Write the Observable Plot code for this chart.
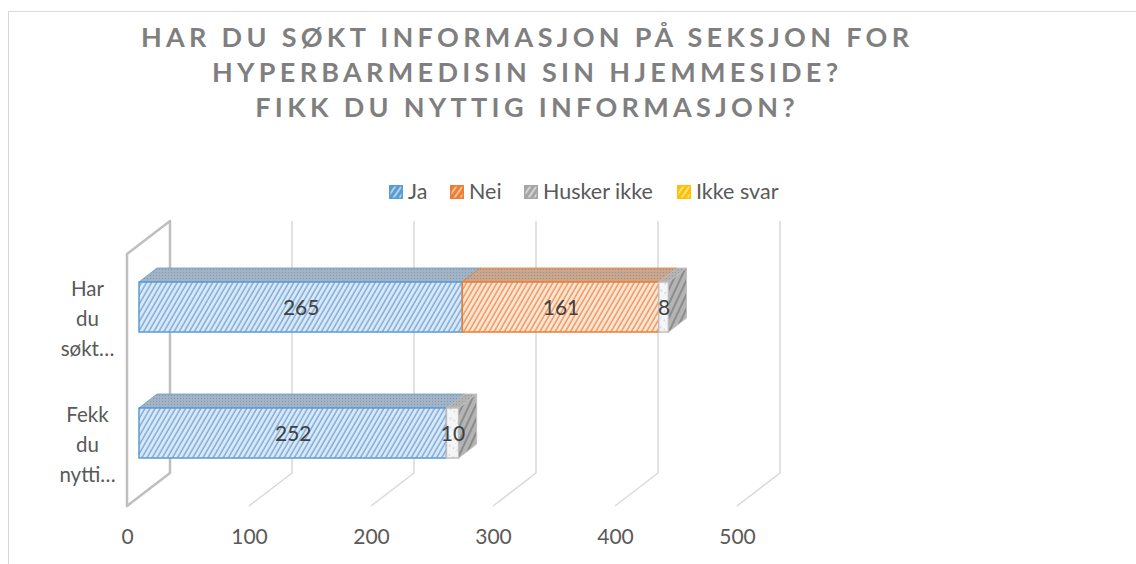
<!DOCTYPE html>
<html><head><meta charset="utf-8">
<script src="https://cdn.jsdelivr.net/npm/d3@7"></script>
<script src="https://cdn.jsdelivr.net/npm/@observablehq/plot@0.6"></script>
<style>
html,body{margin:0;padding:0;background:#fff;}
body{width:1136px;height:564px;overflow:hidden;position:relative;font-family:Lato,"Open Sans",sans-serif;}
#border{position:absolute;left:8px;top:11px;width:1300px;height:700px;border-top:1.5px solid #d9d9d9;border-left:1.5px solid #d9d9d9;}
#title{position:absolute;left:0;top:19px;width:1050px;text-align:center;font-weight:bold;font-size:27px;letter-spacing:4.3px;line-height:35px;color:#7f7f7f;padding-left:4.3px;box-sizing:border-box;}
.leg{position:absolute;top:179px;font-size:21.5px;color:#595959;line-height:24px;white-space:nowrap;}
.leg svg{position:absolute;left:0;top:6px;}
.leg span{position:absolute;left:19px;top:0;}
#chart{position:absolute;left:0;top:200px;}
</style></head>
<body>
<div id="border"></div>
<div id="title">HAR DU SØKT INFORMASJON PÅ SEKSJON FOR<br>HYPERBARMEDISIN SIN HJEMMESIDE?<br>FIKK DU NYTTIG INFORMASJON?</div>
<div id="legend"></div>
<div id="chart"></div>
<script>
// ---- data ----
const categories = ["Har du søkt informasjon på seksjon for hyperbarmedisin sin hjemmeside?", "Fekk du nyttig informasjon?"];
const categoryLabels = ["Har\ndu\nsøkt…", "Fekk\ndu\nnytti…"];
const seriesNames = ["Ja", "Nei", "Husker ikke", "Ikke svar"];
const jaValues = [265, 252];
const neiValues = [161, 0];
const huskerValues = [8, 10];
const ikkeSvarValues = [0, 0];
const seriesColors = ["#5B9BD5", "#ED7D31", "#A5A5A5", "#FFC000"];
const xTicks = [0, 100, 200, 300, 400, 500];

// ---- styling constants (3D projection offsets in px) ----
const FRONT = {dx: -12, dy: 9};   // front plane relative to bar front face plane
const BACK = {dx: 31, dy: -24};   // back wall plane
const DEPTH = {dx: 18, dy: -14};  // bar depth
const FLOOR_Y = 297, TOP_Y = 45;  // floor / wall top in bar plane
const frontFill = ["#dbe8f6", "#fde6d6", "#f5f5f5", "#fff2cc"];
const stripe = ["#6fa5da", "#ef8c49", "#c8c8c8", "#ffc000"];
const topBg = ["#a3b3c6", "#c8a791", "#b3b3b3", "#d9c27f"];
const topDot = ["#8797ab", "#ab8a74", "#979797", "#bfa662"];
const edge = ["#5B9BD5", "#ED7D31", "#bfbfbf", "#FFC000"];

const valuesBySeries = [jaValues, neiValues, huskerValues, ikkeSvarValues];
const rows = [];
categories.forEach((cat, i) => {
  let acc = 0;
  seriesNames.forEach((s, k) => {
    const v = valuesBySeries[k][i];
    rows.push({cat, series: s, k, value: v, x1: acc, x2: acc + v, i});
    acc += v;
  });
});
const visible = rows.filter(d => d.value > 0);
const lastOfBar = categories.map(cat => visible.filter(d => d.cat === cat).at(-1));

// ---- legend ----
const legend = document.getElementById("legend");
const legendX = [389, 450, 524, 677];
seriesNames.forEach((s, k) => {
  const div = document.createElement("div");
  div.className = "leg";
  div.style.left = legendX[k] + "px";
  div.innerHTML = `<svg width="14" height="14"><defs><pattern id="leg${k}" patternUnits="userSpaceOnUse" width="5" height="8" patternTransform="rotate(35)"><rect width="5" height="8" fill="${seriesColors[k]}"/><line x1="1" x2="1" y1="0" y2="8" stroke="#fff" stroke-opacity="0.75" stroke-width="1.4"/></pattern></defs><rect x="0.75" y="0.75" width="12.5" height="12.5" fill="url(#leg${k})" stroke="${seriesColors[k]}" stroke-width="1.5"/></svg><span>${s}</span>`;
  legend.appendChild(div);
});

// ---- defs mark ----
function defsMark() {
  const g = d3.create("svg:g");
  const defs = g.append("defs");
  seriesNames.forEach((s, k) => {
    const p = defs.append("pattern").attr("id", "front" + k).attr("patternUnits", "userSpaceOnUse")
      .attr("width", 4.4).attr("height", 8).attr("patternTransform", "rotate(30)");
    p.append("rect").attr("width", 4.4).attr("height", 8).attr("fill", frontFill[k]);
    if (k === 2) {
      p.append("circle").attr("cx", 2).attr("cy", 4).attr("r", 0.8).attr("fill", "#c8c8c8");
    } else {
      p.append("line").attr("x1", 1).attr("x2", 1).attr("y1", 0).attr("y2", 8).attr("stroke", stripe[k]).attr("stroke-width", 1.3);
    }
    const t = defs.append("pattern").attr("id", "top" + k).attr("patternUnits", "userSpaceOnUse")
      .attr("width", 3).attr("height", 3);
    t.append("rect").attr("width", 3).attr("height", 3).attr("fill", topBg[k]);
    t.append("rect").attr("width", 1).attr("height", 1).attr("fill", topDot[k]);
  });
  const sd = defs.append("pattern").attr("id", "side").attr("patternUnits", "userSpaceOnUse")
    .attr("width", 6).attr("height", 10).attr("patternTransform", "rotate(25)");
  sd.append("rect").attr("width", 6).attr("height", 10).attr("fill", "#b4b4b4");
  sd.append("line").attr("x1", 2).attr("x2", 2).attr("y1", 0).attr("y2", 10).attr("stroke", "#8c8c8c").attr("stroke-width", 2);
  return g.node();
}

// ---- walls, floor and gridlines (drawn from the x scale) ----
function frameMark(index, scales) {
  const x = scales.x;
  const g = d3.create("svg:g").attr("fill", "none");
  for (const t of xTicks) {
    if (t === 0) continue;
    const xb = x(t) + BACK.dx, xf = x(t) + FRONT.dx;
    g.append("line").attr("x1", xb).attr("x2", xb).attr("y1", TOP_Y + BACK.dy).attr("y2", FLOOR_Y + BACK.dy)
      .attr("stroke", "#d9d9d9").attr("stroke-width", 1.5);
    g.append("line").attr("x1", xb).attr("x2", xf).attr("y1", FLOOR_Y + BACK.dy).attr("y2", FLOOR_Y + FRONT.dy)
      .attr("stroke", "#d9d9d9").attr("stroke-width", 1.5);
  }
  const xb0 = x(0) + BACK.dx, xf0 = x(0) + FRONT.dx;
  g.append("path")
    .attr("d", `M${xf0},${TOP_Y + FRONT.dy}L${xf0},${FLOOR_Y + FRONT.dy}L${xb0},${FLOOR_Y + BACK.dy}L${xb0},${TOP_Y + BACK.dy}Z`)
    .attr("stroke", "#bfbfbf").attr("stroke-width", 2.5).attr("stroke-linejoin", "round");
  return g.node();
}

function bandOf(scales) {
  const y = scales.y;
  const bw = y.bandwidth ? y.bandwidth() : 50;
  return {y, bw};
}

// top faces of all visible segments
function topMark(index, scales) {
  const x = scales.x; const {y} = bandOf(scales);
  const g = d3.create("svg:g");
  for (const d of visible) {
    const x1 = x(d.x1), x2 = x(d.x2), yt = y(d.cat);
    g.append("path")
      .attr("d", `M${x1},${yt}L${x2},${yt}L${x2 + DEPTH.dx},${yt + DEPTH.dy}L${x1 + DEPTH.dx},${yt + DEPTH.dy}Z`)
      .attr("fill", `url(#top${d.k})`).attr("stroke", edge[d.k]).attr("stroke-width", 1).attr("stroke-opacity", 0.8);
  }
  return g.node();
}

// right side faces for the last segment of each bar
function sideMark(index, scales) {
  const x = scales.x; const {y, bw} = bandOf(scales);
  const g = d3.create("svg:g");
  for (const d of lastOfBar) {
    const x2 = x(d.x2), yt = y(d.cat), yb = yt + bw;
    g.append("path")
      .attr("d", `M${x2},${yt}L${x2 + DEPTH.dx},${yt + DEPTH.dy}L${x2 + DEPTH.dx},${yb + DEPTH.dy}L${x2},${yb}Z`)
      .attr("fill", "url(#side)").attr("stroke", "#bfbfbf").attr("stroke-width", 1);
  }
  return g.node();
}

const frontBars = seriesNames.map((s, k) =>
  Plot.barX(visible.filter(d => d.k === k), {
    x1: "x1", x2: "x2", y: "cat",
    fill: `url(#front${k})`, stroke: edge[k], strokeWidth: 1.5,
    insetTop: 0, insetBottom: 0, insetLeft: 0, insetRight: 0
  })
);

const chart = Plot.plot({
  width: 1136,
  height: 364,
  marginLeft: 0, marginRight: 0, marginTop: 0, marginBottom: 20,
  x: {domain: [0, 500], range: [139, 749], axis: null},
  y: {domain: categories, range: [6.4, 334], padding: 0.6, axis: null},
  style: {fontFamily: "Lato, 'Open Sans', sans-serif", background: "transparent", overflow: "visible"},
  marks: [
    defsMark,
    frameMark,
    topMark,
    ...frontBars,
    sideMark,
    Plot.text(visible, {
      x: d => (d.x1 + d.x2) / 2, y: "cat", text: d => String(d.value),
      fontSize: 21, fill: "#404040", dy: 1
    }),
    Plot.text(xTicks, {
      x: d => d, text: d => String(d), frameAnchor: "bottom", lineAnchor: "middle",
      dx: FRONT.dx, dy: -7, fontSize: 21, fill: "#595959"
    }),
    Plot.text(categories, {
      y: d => d, text: (d, i) => categoryLabels[i], frameAnchor: "left", textAnchor: "middle",
      dx: 87, dy: FRONT.dy, lineHeight: 1.45, fontSize: 20.5, fill: "#595959"
    })
  ]
});
document.getElementById("chart").appendChild(chart);
</script>
</body></html>
